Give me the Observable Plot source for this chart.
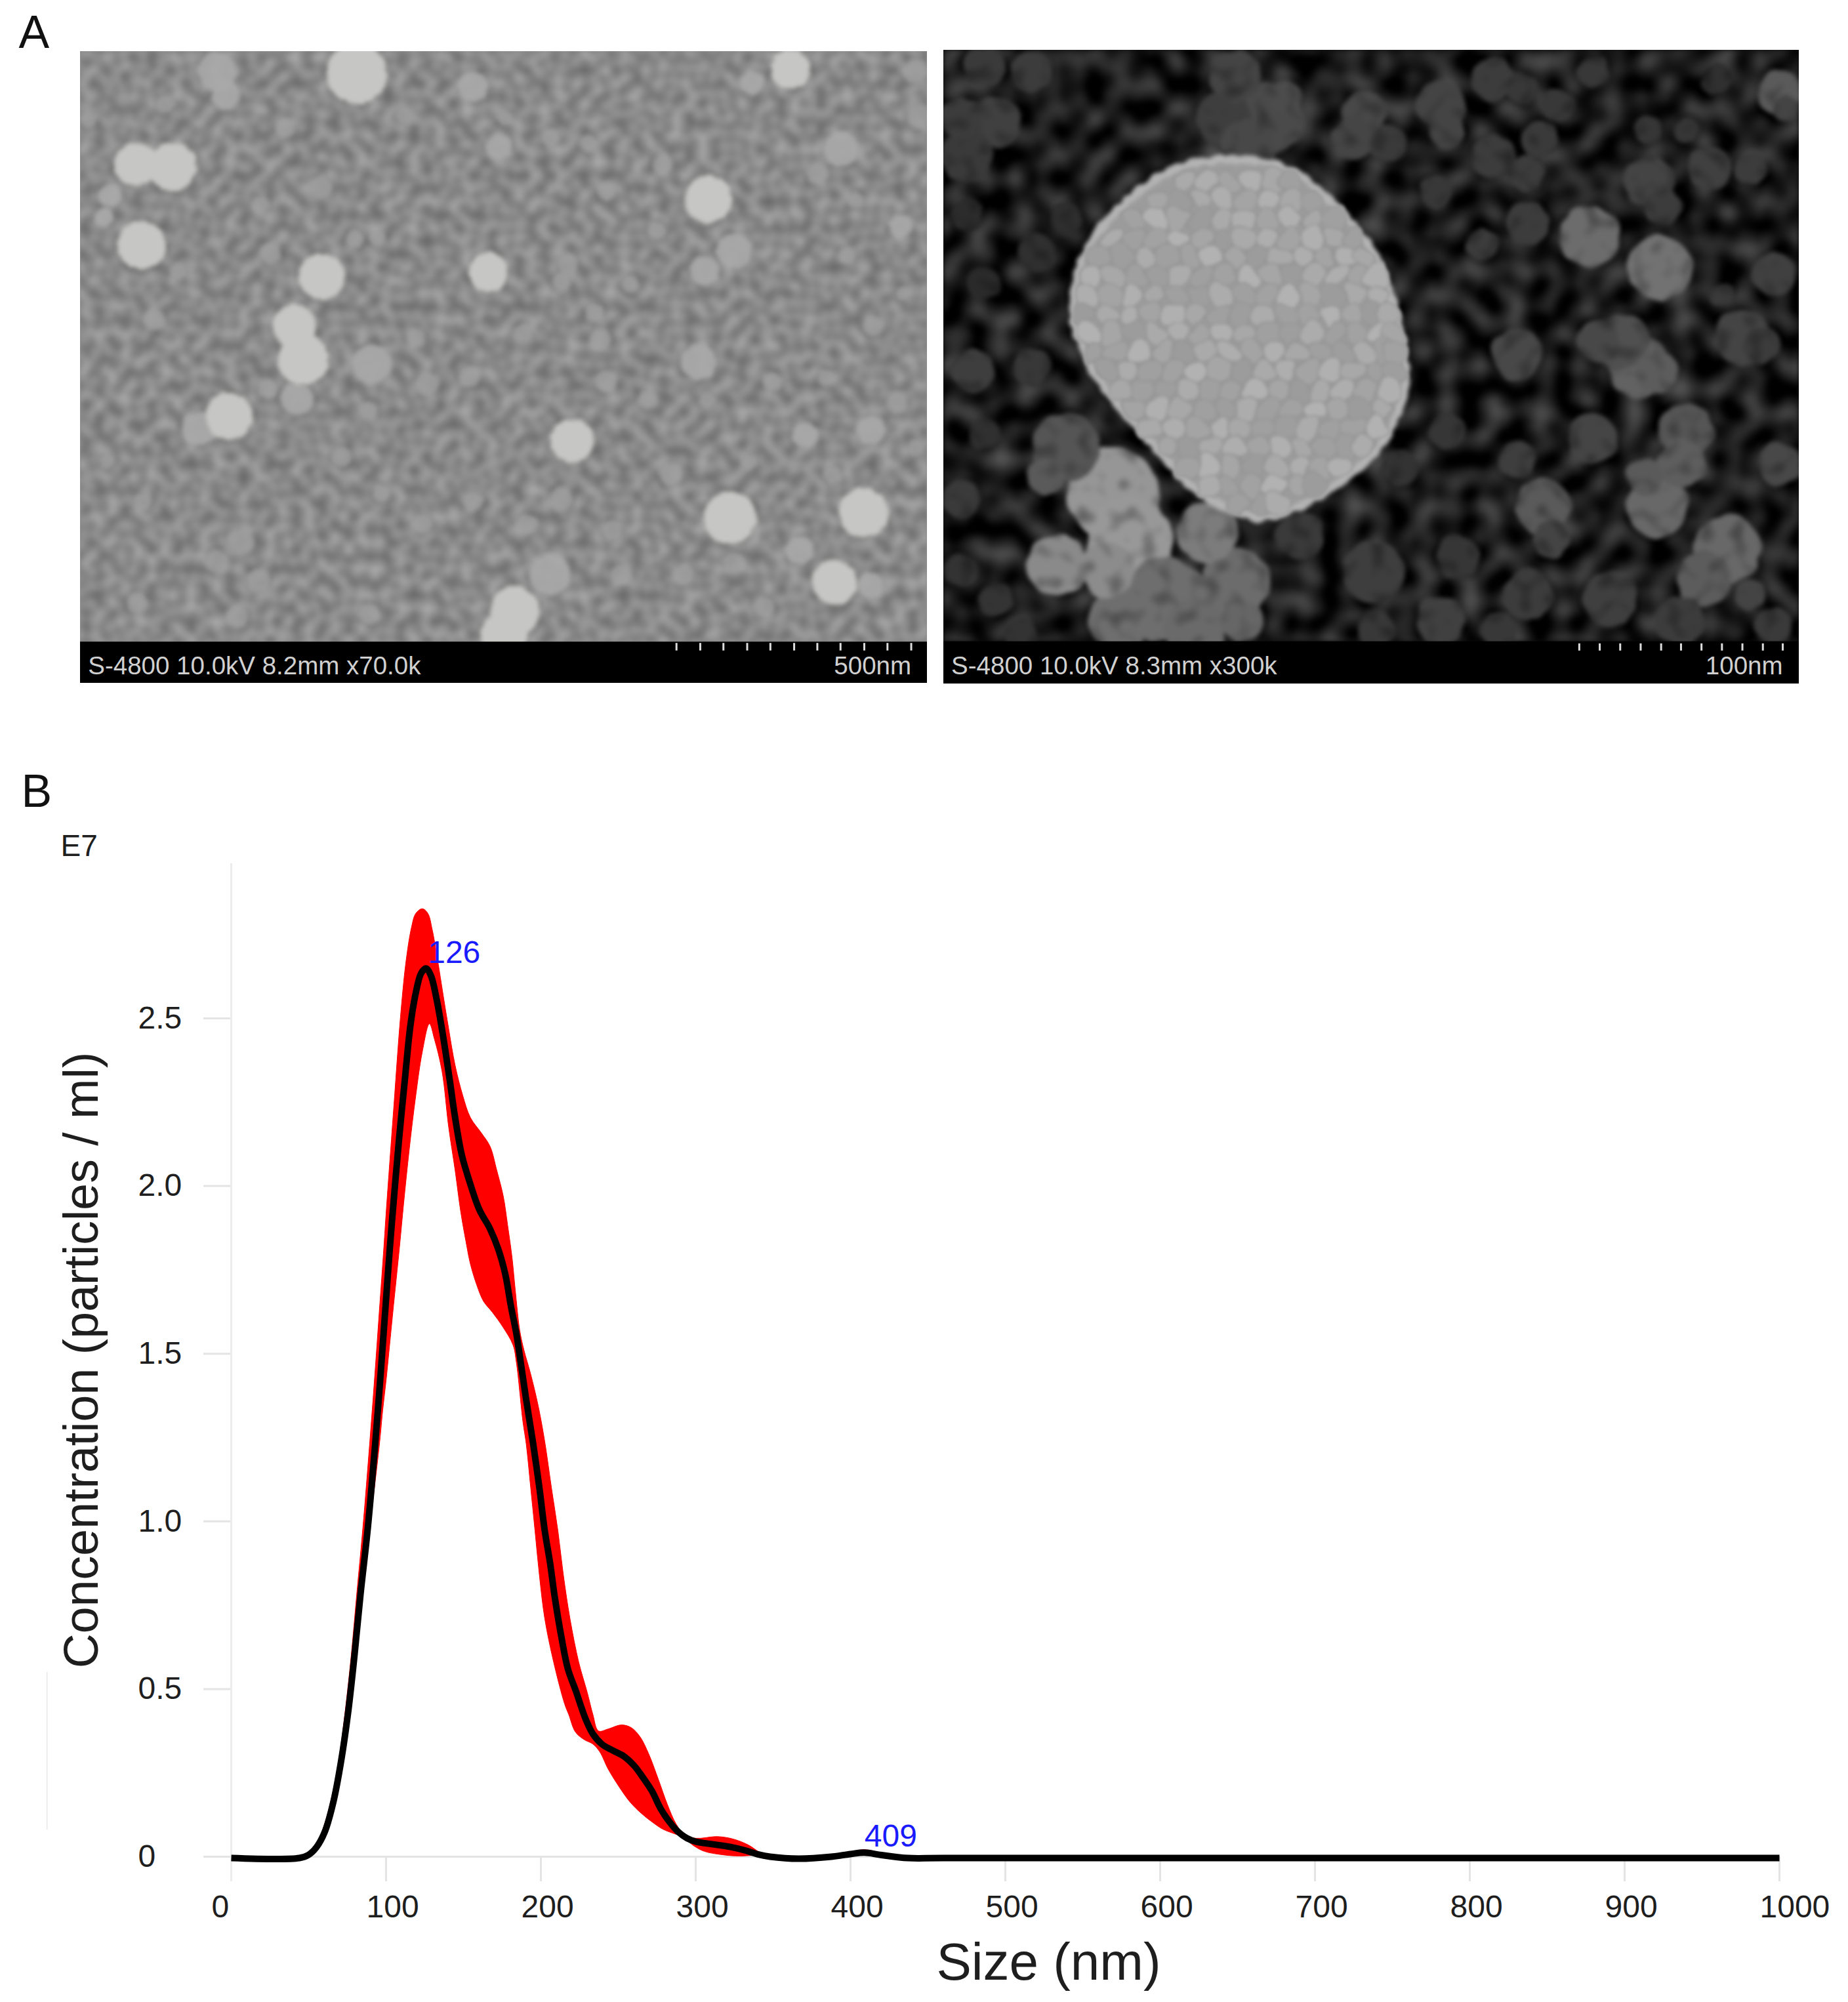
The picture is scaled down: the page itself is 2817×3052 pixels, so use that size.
<!DOCTYPE html>
<html><head><meta charset="utf-8">
<script src="https://cdn.jsdelivr.net/npm/d3@7"></script>
<script src="https://cdn.jsdelivr.net/npm/@observablehq/plot@0.6"></script>
<style>
html,body{margin:0;padding:0;background:#fff}
#page{position:relative;width:2817px;height:3052px;overflow:hidden;font-family:"Liberation Sans",Arial,sans-serif}
#page>div{position:absolute}
svg{display:block}
</style></head>
<body>
<svg width="0" height="0" style="position:absolute">
<defs>
<filter id="grainLeft" x="0" y="0" width="100%" height="100%" color-interpolation-filters="sRGB">
<feTurbulence type="fractalNoise" baseFrequency="0.05" numOctaves="1" seed="7"/>
<feColorMatrix type="matrix" values="0.34 0 0 0 0.37  0.34 0 0 0 0.37  0.34 0 0 0 0.37  0 0 0 0 1"/>
<feGaussianBlur stdDeviation="2.2"/>
</filter>
<filter id="grainRight" x="0" y="0" width="100%" height="100%" color-interpolation-filters="sRGB">
<feTurbulence type="fractalNoise" baseFrequency="0.028" numOctaves="1" seed="11"/>
<feColorMatrix type="matrix" values="0.62 0 0 0 -0.2  0.62 0 0 0 -0.2  0.62 0 0 0 -0.2  0 0 0 0 1"/>
<feGaussianBlur stdDeviation="3"/>
</filter>
<filter id="softLeft" x="-5%" y="-5%" width="110%" height="110%" color-interpolation-filters="sRGB">
<feTurbulence type="fractalNoise" baseFrequency="0.09" numOctaves="2" seed="3" result="n"/>
<feDisplacementMap in="SourceGraphic" in2="n" scale="7" xChannelSelector="R" yChannelSelector="G"/>
<feGaussianBlur stdDeviation="3"/>
</filter>
<filter id="lumpy" x="-5%" y="-5%" width="110%" height="110%" color-interpolation-filters="sRGB">
<feTurbulence type="fractalNoise" baseFrequency="0.04" numOctaves="1" seed="5" result="n"/>
<feDisplacementMap in="SourceGraphic" in2="n" scale="14" xChannelSelector="R" yChannelSelector="G" result="d"/>
<feColorMatrix in="n" type="matrix" values="1.1 0 0 0 0.45  1.1 0 0 0 0.45  1.1 0 0 0 0.45  0 0 0 0 1" result="g"/>
<feComposite in="d" in2="g" operator="arithmetic" k1="1" k2="0" k3="0" k4="0"/>
<feGaussianBlur stdDeviation="3"/>
</filter>
<filter id="sphereEdge" x="-5%" y="-5%" width="110%" height="110%" color-interpolation-filters="sRGB">
<feTurbulence type="fractalNoise" baseFrequency="0.07" numOctaves="1" seed="2" result="n"/>
<feDisplacementMap in="SourceGraphic" in2="n" scale="12" xChannelSelector="R" yChannelSelector="G"/>
<feGaussianBlur stdDeviation="3"/>
</filter>
<filter id="sphereBump" x="-5%" y="-5%" width="110%" height="110%" color-interpolation-filters="sRGB">
<feTurbulence type="fractalNoise" baseFrequency="0.035" numOctaves="1" seed="8" result="n"/>
<feDisplacementMap in="SourceGraphic" in2="n" scale="26" xChannelSelector="R" yChannelSelector="G"/>
<feGaussianBlur stdDeviation="2.6"/>
</filter>
</defs>
</svg>
<div id="page"></div>
<script>
// ---- Panel B: particle size distribution (size in nm, concentration in 1E7 particles/ml)
const sizeTicks = [0,100,200,300,400,500,600,700,800,900,1000];
const concTicks = [0,0.5,1,1.5,2,2.5];
const meanSize = [0,44,49.7,55,60.5,66,71,75.4,79.5,83.5,88.2,93.1,96.3,99.4,102.5,106,109,112.2,115.7,119.2,122.7,125.9,129,132.7,136.9,141,144.6,148.9,153.8,160.2,167.2,172.9,177.1,180.6,184.2,187,190.5,194.8,199,202.5,206,208.9,213.1,217.4,223,225.8,229.4,233.6,239.3,246.3,253.4,260.5,266.1,271.7,277.4,283,288.7,294.4,300,311.3,322.5,332.5,341,348,366.5,387.7,400,409,420,437,460,1000];
const meanConc = [-0.004,-0.004,0.005,0.028,0.075,0.164,0.286,0.427,0.596,0.783,0.98,1.238,1.428,1.624,1.819,2.015,2.17,2.32,2.478,2.576,2.635,2.649,2.627,2.556,2.445,2.32,2.204,2.093,2.015,1.93,1.872,1.806,1.735,1.643,1.559,1.473,1.363,1.238,1.101,0.972,0.874,0.776,0.659,0.561,0.489,0.45,0.405,0.366,0.336,0.317,0.3,0.27,0.235,0.196,0.143,0.104,0.074,0.055,0.045,0.037,0.029,0.018,0.006,0,-0.006,0,0.008,0.012,0.005,-0.004,-0.004,-0.004];
const upperSize = [44,48,54,59,64.5,69.5,73.5,77.5,81,85,89.5,92.6,95.6,98.6,100.1,105.1,109.3,112.8,116.4,119.2,123.4,127,129.8,133.3,136.9,140.4,144.6,149.6,154.5,161.6,167.2,171.5,175.7,178.5,181.4,183.5,186.3,189,193.3,198.3,202.5,206.8,211,214.5,218.8,224.4,230,233.6,237.2,243.5,252,258.3,264,269.6,276,281.7,287.3,293,300,314,324,334,342.4,348,366,388,400,409,420,430];
const upperConc = [0,0.005,0.03,0.08,0.17,0.29,0.43,0.6,0.78,0.98,1.238,1.428,1.624,1.819,1.924,2.243,2.504,2.667,2.771,2.813,2.827,2.813,2.765,2.674,2.569,2.47,2.36,2.269,2.204,2.158,2.118,2.047,1.97,1.884,1.786,1.688,1.571,1.512,1.441,1.344,1.238,1.101,0.972,0.841,0.71,0.581,0.489,0.424,0.375,0.381,0.393,0.385,0.358,0.307,0.229,0.156,0.098,0.065,0.055,0.06,0.053,0.035,0.01,0.002,-0.006,0.002,0.014,0.021,0.011,0];
const lowerSize = [51,57,62,67,72.5,77,81,85,89.5,95.9,97.8,100.2,102.3,104.4,108.7,111.4,115,119.2,123.4,128,131.2,136.2,140.4,144.6,148.2,151.7,154.5,158.8,163,168.6,175.7,182,184.2,188.4,190.5,193.4,196.2,199,202.5,208.2,215.3,218,222.3,228,233.6,238,243.5,250.6,257.6,264.7,271.7,278.8,285.9,291.5,298.6,305.6,317,328,336.8,342.4,366,388,400,409,420];
const lowerConc = [0.003,0.03,0.08,0.165,0.29,0.43,0.6,0.78,0.98,1.238,1.33,1.428,1.526,1.624,1.819,1.95,2.11,2.27,2.4,2.484,2.439,2.341,2.177,2.047,1.924,1.832,1.767,1.702,1.656,1.624,1.578,1.526,1.473,1.297,1.232,1.101,0.972,0.841,0.71,0.581,0.456,0.424,0.372,0.349,0.336,0.313,0.261,0.208,0.163,0.13,0.104,0.082,0.069,0.059,0.033,0.016,0.006,0.002,0.004,0.005,-0.008,-0.002,0.004,0.004,0.002];
const peakLabels = ["126","409"];
const peakSize = [127,409];
const peakConc = [2.665,0.03];

const leftLarge = [[600,165,46],[228,370,33],[290,375,37],[238,552,37],[541,623,35],[822,613,30],[495,735,33],[510,810,39],[385,938,36],[963,993,33],[1192,448,36],[1228,1167,40],[1453,1155,38],[1404,1312,34],[866,1378,38],[848,1432,36],[1330,155,30]];
const leftMedium = [[365,160,30],[380,215,22],[840,330,20],[925,1295,32],[1175,815,27],[1185,610,22],[1235,565,27],[625,820,30],[335,965,26],[500,898,25],[1515,510,18],[1265,185,18],[1345,1240,22],[1465,1320,20],[1355,980,20],[1465,970,22],[795,195,23],[1415,335,27],[175,490,14],[185,440,18]];
const leftSmall = [[540,420,18],[278,235,14],[1540,160,18],[1545,260,18],[1375,390,16],[1115,370,14],[880,750,14],[1010,765,16],[1128,1068,18],[1233,1268,16],[1150,1295,16],[945,1125,18],[795,1130,15],[885,1180,15],[365,1265,18],[405,1220,20],[575,1030,15],[718,865,18],[620,925,14],[450,875,14],[1020,858,16],[1510,905,16],[955,595,16],[945,635,14],[1000,705,14],[455,570,16],[597,538,14],[635,535,12],[260,720,16],[925,310,14],[990,320,13],[480,290,14],[850,265,12],[1520,660,11],[1425,575,13],[1470,735,15],[1285,1370,16],[1045,1295,16],[1030,1195,16],[710,1180,15],[435,1310,18],[620,1385,16],[230,1360,15],[400,1390,16],[1105,520,14],[1060,640,13],[700,760,14],[790,850,15],[300,610,13],[1090,900,14],[1190,900,13],[1400,1070,14],[640,1110,13],[240,1130,14],[180,1040,12],[1260,1040,12],[1390,850,13],[1300,860,14],[1440,450,12],[680,260,13],[1020,430,14],[440,460,13],[150,270,12],[1540,1010,13]];
const leftTicks = [1138,1178,1217,1257,1296,1336,1375,1414,1454,1493,1533];
const leftCaption = ["S-4800 10.0kV 8.2mm x70.0k"];
const leftScale = ["500nm"];

const rightClusters = [[520,100,40,68],[580,200,52,74],[500,200,42,62],[540,270,42,72],[605,150,24,76],[90,80,32,58],[170,90,32,60],[50,200,32,60],[110,210,38,64],[60,290,38,58],[740,190,33,72],[720,250,33,69],[780,260,28,58],[870,170,38,68],[880,230,28,68],[960,110,33,60],[1010,130,24,56],[1130,90,24,56],[1070,170,24,56],[1040,250,28,58],[960,290,33,60],[1015,330,28,60],[860,370,24,56],[1020,450,33,60],[940,500,24,60],[1225,350,38,68],[1250,410,28,60],[1330,320,33,64],[1400,320,24,60],[1340,110,24,48],[1450,140,33,90],[1460,180,20,68],[1225,230,21,54],[1290,230,19,54],[1125,480,47,108],[1245,555,49,114],[1210,790,47,98],[1180,730,42,80],[1140,730,33,72],[1000,760,38,72],[1240,800,33,92],[1385,720,42,68],[1350,620,19,58],[1440,570,33,64],[1420,740,28,60],[1290,940,42,85],[1280,1020,38,94],[1240,1120,47,104],[1220,1050,28,90],[1360,1220,52,104],[1320,1290,42,92],[1045,1120,42,90],[1060,1200,28,68],[1130,960,38,69],[1000,1010,28,62],[880,940,28,54],[800,1030,28,51],[1450,1020,33,72],[755,1275,47,62],[630,1190,36,58],[900,1240,33,54],[1020,1330,38,60],[1160,1340,42,63],[1280,1390,38,60],[870,1390,38,64],[760,1410,28,56],[1440,1400,28,58],[970,1410,28,56],[1400,1330,24,68],[180,520,28,48],[90,590,24,42],[70,800,33,62],[170,790,28,56],[90,950,24,48],[50,1100,28,58],[50,1270,24,51],[110,1340,26,52],[150,1420,24,51],[230,440,24,46],[60,430,24,44]];
const rightAgglomerate = [[230,980,52,85],[195,1050,28,90],[310,1090,70,150],[340,1200,65,152],[470,1180,47,124],[215,1260,47,138],[300,1270,42,140],[400,1340,65,110],[520,1300,52,108],[530,1390,33,102],[320,1390,47,110],[450,1410,47,106]];
const sphereX = [440,600,690,750,790,810,780,700,570,460,370,280,240,270,340];
const sphereY = [310,315,410,510,650,800,950,1060,1145,1090,960,810,650,500,390];
const bumpRows = [
 [350,[432,470,507,545,583,612]],
 [395,[385,421,460,498,537,575,614,651]],
 [440,[345,382,420,459,497,535,574,612,650,688]],
 [485,[307,345,383,421,460,498,536,574,613,651,690,722]],
 [530,[288,326,364,402,441,479,518,556,594,632,671,709,738]],
 [575,[272,310,348,386,425,463,501,540,578,616,654,693,731,757]],
 [620,[265,303,341,380,418,456,495,533,571,610,648,686,725,763]],
 [665,[260,298,336,375,413,451,490,528,566,605,643,681,720,758,778]],
 [710,[268,306,344,383,421,459,498,536,574,613,651,689,728,766,788]],
 [755,[278,316,355,393,431,470,508,546,585,623,661,700,738,776,794]],
 [800,[298,336,374,413,451,489,528,566,604,643,681,719,758,793]],
 [845,[322,360,398,437,475,513,552,590,628,667,705,743,784]],
 [890,[348,386,424,463,501,539,578,616,654,693,731,770]],
 [935,[375,413,452,490,528,567,605,643,682,720,758]],
 [980,[402,440,478,517,555,593,632,670,708,738]],
 [1025,[435,473,512,550,588,627,665,700]],
 [1070,[470,508,547,585,623,655]],
 [1115,[525,563,590]]
];
const bumpShades = [170,160,176,166,158,174,162,168,156,172,164,178,160];
const rightTicks = [1107,1142,1177,1212,1247,1281,1316,1351,1386,1421,1455];
const rightCaption = ["S-4800 10.0kV 8.3mm x300k"];
const rightScale = ["100nm"];

const page = document.getElementById("page");
const fontFamily = '"Liberation Sans",Arial,sans-serif';
function place(svg, left, top){const d=document.createElement("div");d.style.left=left+"px";d.style.top=top+"px";d.appendChild(svg);page.appendChild(d);}

// Panel B (full-page frame so the panel letters live with it)
const bandOutline = upperSize.map((s,i)=>({s,c:upperConc[i]})).concat(lowerSize.map((s,i)=>({s,c:lowerConc[i]})).reverse());
const meanCurve = meanSize.map((s,i)=>({s,c:meanConc[i]}));
const grid = "#e4e4e4", ink = "#1e1e1e";
place(Plot.plot({
  width:2817,height:3052,marginLeft:352,marginRight:105,marginTop:1316,marginBottom:222,
  style:{fontFamily,background:"transparent"},
  x:{domain:[0,1000],axis:null},
  y:{domain:[0,2.9617],axis:null},
  marks:[
    Plot.ruleX(sizeTicks,{y1:0,y2:-0.0743,stroke:grid,strokeWidth:3}),
    Plot.ruleY(concTicks,{x1:-17.8,x2:0,stroke:grid,strokeWidth:3}),
    Plot.axisX(sizeTicks,{anchor:"bottom",tickSize:0,tickPadding:58,fill:ink,fontSize:48,textAnchor:"start",dx:-30,label:null,tickFormat:d=>String(d)}),
    Plot.axisY(concTicks,{anchor:"left",tickSize:0,tickPadding:3,fill:ink,fontSize:48,textAnchor:"start",dx:-139,label:null,tickFormat:d=>d===0?"0":d.toFixed(1)}),
    Plot.ruleX([0],{y1:2.9617,y2:-0.0743,stroke:"#ececec",strokeWidth:3}),
    Plot.ruleY([0],{stroke:grid,strokeWidth:3}),
    Plot.ruleX([-119],{y1:0.55,y2:0.08,stroke:"#ececec",strokeWidth:2}),
    Plot.line(bandOutline,{x:"s",y:"c",curve:"catmull-rom-closed",fill:"#ff0000",stroke:"#ff0000",strokeWidth:1}),
    Plot.line(meanCurve,{x:"s",y:"c",curve:"catmull-rom",stroke:"#000",strokeWidth:10,strokeLinecap:"butt"}),
    Plot.text(peakLabels,{x:(d,i)=>peakSize[i],y:(d,i)=>peakConc[i],text:d=>d,fill:"#1a1aff",fontSize:48,textAnchor:"start",lineAnchor:"bottom"}),
    Plot.text(["Concentration (particles / ml)"],{frameAnchor:"top-left",dx:-204,dy:757,text:d=>d,rotate:-90,fontSize:73.5,fill:ink,textAnchor:"middle",lineAnchor:"bottom"}),
    Plot.text(["Size (nm)"],{frameAnchor:"bottom",dx:66,dy:162,text:d=>d,fontSize:80,fill:ink,textAnchor:"middle",lineAnchor:"middle"}),
    Plot.text(["E7"],{frameAnchor:"top-left",dx:-260,dy:-12,text:d=>d,fontSize:46,fill:ink,textAnchor:"start",lineAnchor:"bottom"}),
    Plot.text(["A"],{frameAnchor:"top-left",dx:-324,dy:-1244,text:d=>d,fontSize:70,fill:"#111",textAnchor:"start",lineAnchor:"bottom"}),
    Plot.text(["B"],{frameAnchor:"top-left",dx:-320,dy:-87,text:d=>d,fontSize:70,fill:"#111",textAnchor:"start",lineAnchor:"bottom"})
  ]
}),0,0);

const toTable = rows => rows.map(([x,y,r,g])=>({x,y,r,g}));
const grey = g => `rgb(${g},${g},${g})`;

// Left micrograph
place(Plot.plot({
  width:1291,height:963,margin:0,style:{fontFamily,background:"#8a8a8a"},
  x:{domain:[135,1560],axis:null},y:{domain:[115,1540],range:[0,963],axis:null},r:{type:"identity"},
  marks:[
    Plot.rect([0],{x1:135,x2:1560,y1:115,y2:1447,fill:"#8a8a8a",imageFilter:"url(#grainLeft)"}),
    Plot.dot(toTable(leftSmall),{x:"x",y:"y",r:"r",fill:"#a0a0a0",fillOpacity:0.8,imageFilter:"url(#softLeft)"}),
    Plot.dot(toTable(leftMedium),{x:"x",y:"y",r:"r",fill:"#aaaaaa",fillOpacity:0.9,imageFilter:"url(#softLeft)"}),
    Plot.dot(toTable(leftLarge),{x:"x",y:"y",r:"r",fill:"#c6c6c4",imageFilter:"url(#softLeft)"}),
    Plot.rect([0],{x1:135,x2:1560,y1:1447,y2:1540,fill:"#000"}),
    Plot.ruleX(leftTicks,{y1:1450,y2:1467,stroke:"#ddd",strokeWidth:3}),
    Plot.text(leftCaption,{x:148,y:1520,text:d=>d,fill:"#d0d0d0",fontSize:38.5,textAnchor:"start",lineAnchor:"bottom"}),
    Plot.text(leftScale,{x:1533,y:1520,text:d=>d,fill:"#d0d0d0",fontSize:38.5,textAnchor:"end",lineAnchor:"bottom"})
  ]
}),122,78);

// Right micrograph
const spherePath = sphereX.map((x,i)=>({x,y:sphereY[i]}));
const sphereBumps = bumpRows.flatMap(([y,xs],row)=>xs.map((x,i)=>({x,y,g:bumpShades[(i*5+row*3)%bumpShades.length]})));
place(Plot.plot({
  width:1304,height:966,margin:0,style:{fontFamily,background:"#0c0c0c"},
  x:{domain:[20,1483],axis:null},y:{domain:[40,1540],range:[0,966],axis:null},r:{type:"identity"},
  marks:[
    Plot.rect([0],{x1:20,x2:1483,y1:40,y2:1440,fill:"#222",imageFilter:"url(#grainRight)"}),
    Plot.dot(toTable(rightClusters),{x:"x",y:"y",r:"r",fill:d=>grey(d.g),imageFilter:"url(#lumpy)"}),
    Plot.dot(toTable(rightAgglomerate),{x:"x",y:"y",r:"r",fill:d=>grey(d.g),imageFilter:"url(#lumpy)"}),
    Plot.line(spherePath,{x:"x",y:"y",curve:"catmull-rom-closed",fill:"#9c9c9c",stroke:"#b4b4b4",strokeWidth:12,imageFilter:"url(#sphereEdge)"}),
    Plot.dot(sphereBumps,{x:"x",y:"y",r:17,fill:d=>grey(d.g),stroke:"#949494",strokeWidth:2,imageFilter:"url(#sphereBump)"}),
    Plot.rect([0],{x1:20,x2:1483,y1:1440,y2:1540,fill:"#000"}),
    Plot.ruleX(rightTicks,{y1:1445,y2:1462,stroke:"#ddd",strokeWidth:3}),
    Plot.text(rightCaption,{x:33,y:1518,text:d=>d,fill:"#d0d0d0",fontSize:38.5,textAnchor:"start",lineAnchor:"bottom"}),
    Plot.text(rightScale,{x:1455,y:1518,text:d=>d,fill:"#d0d0d0",fontSize:38.5,textAnchor:"end",lineAnchor:"bottom"})
  ]
}),1438,76);
</script>
</body></html>
